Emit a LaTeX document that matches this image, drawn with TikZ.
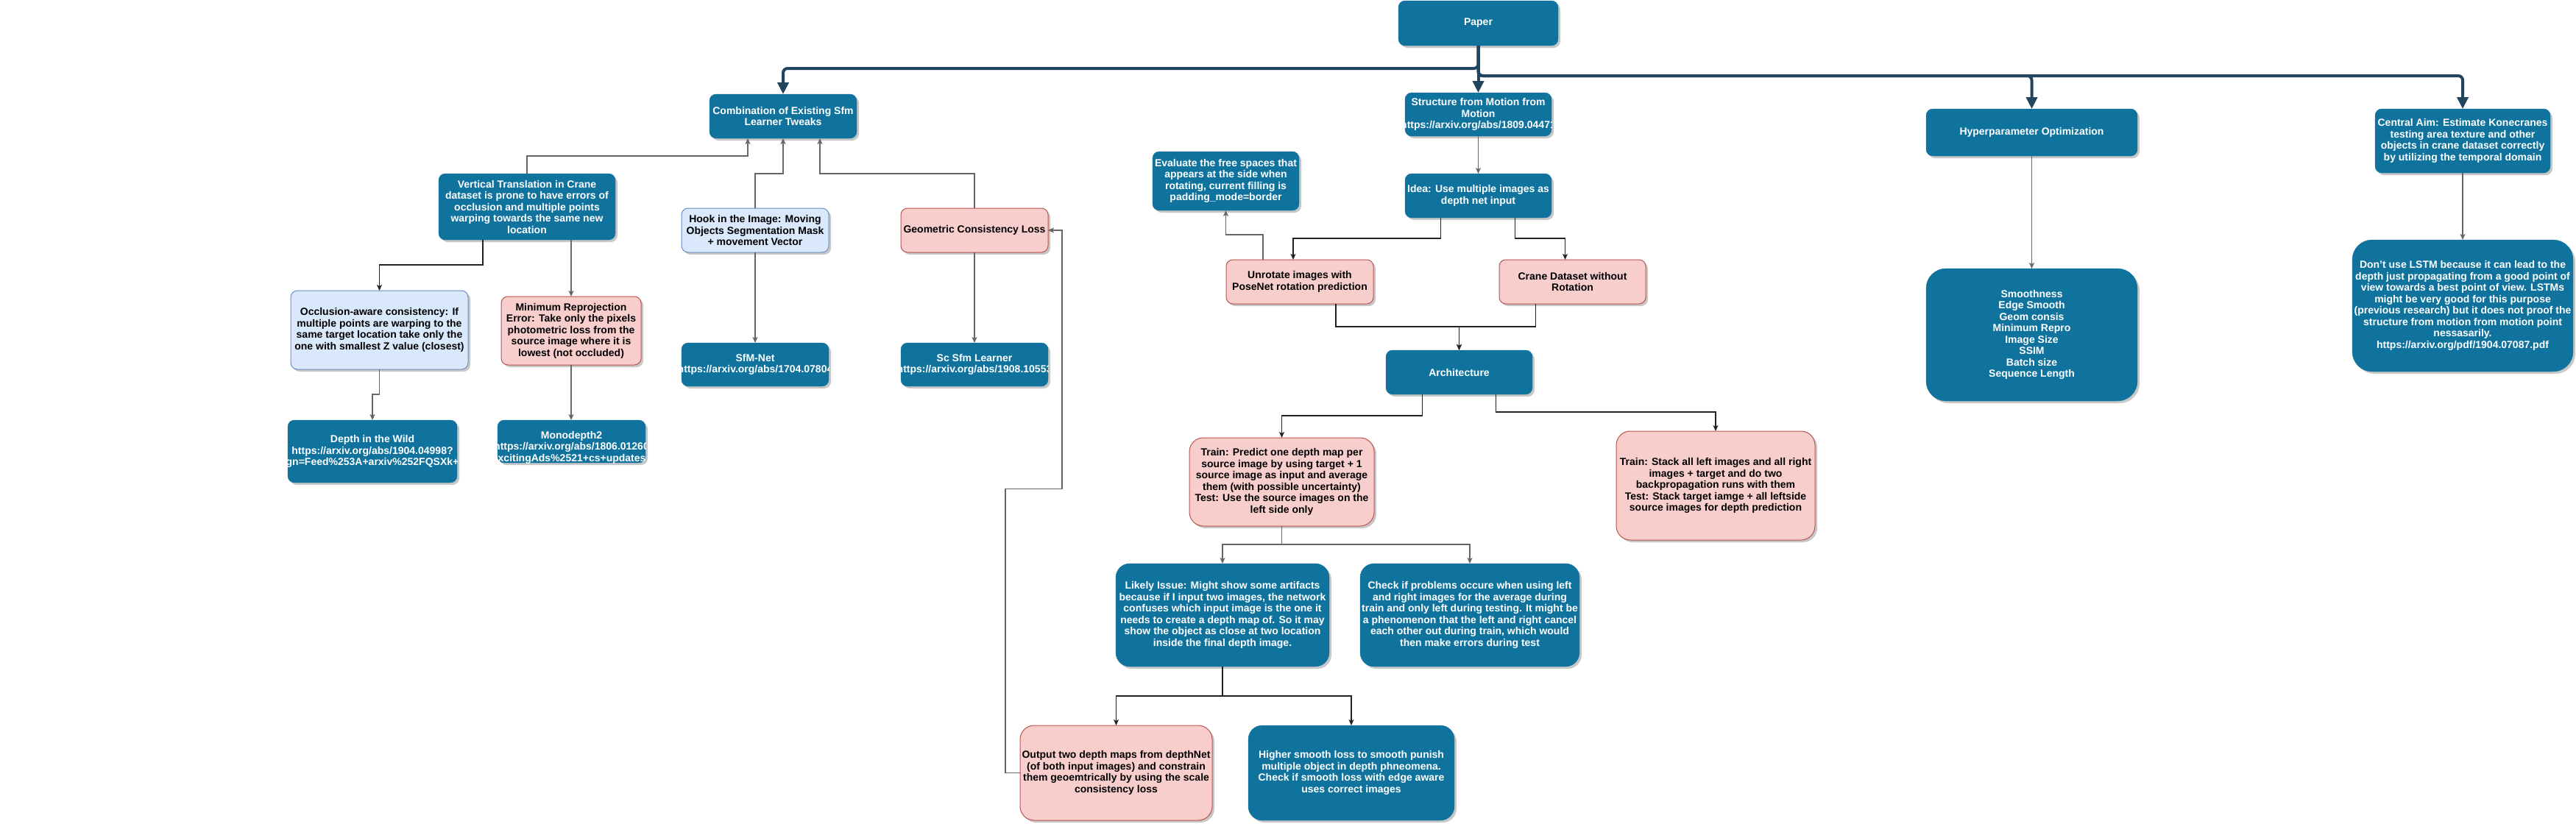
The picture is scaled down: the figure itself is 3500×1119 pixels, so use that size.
\documentclass[tikz,border=0pt]{standalone}
\usepackage{fontspec}
\setmainfont{Liberation Sans}
\usetikzlibrary{arrows.meta,shadows,calc}
\definecolor{nblue}{HTML}{10739E}
\definecolor{lbfill}{HTML}{DAE8FC}
\definecolor{lbdraw}{HTML}{6C8EBF}
\definecolor{pkfill}{HTML}{F8CECC}
\definecolor{pkdraw}{HTML}{B85450}
\definecolor{navy}{HTML}{23445D}
\definecolor{cgray}{HTML}{666666}
\definecolor{cdark}{HTML}{222222}
\newcommand\bx[7]{\node[#2, minimum width={(#5-#3)*1pt}, minimum height={(#6-#4)*1pt}] (#1) at ({(#3+#5)/2},{(#4+#6)/2}) {#7};}
\newcommand\cliptext[4]{\begin{scope}\clip[rounded corners=9pt] (#1.south west) rectangle (#1.north east);
\node[txt, text=#3] (#2) at (#1.center) {#4};\end{scope}}
\tikzset{
  base/.style={rectangle, inner sep=0pt, outer sep=0pt, align=center,
    font=\fontsize{14}{15.5}\selectfont\bfseries, rounded corners=9pt,
    drop shadow={shadow xshift=3pt, shadow yshift=-3pt, opacity=0.22, fill=black}},
  bluebox/.style={base, fill=nblue, draw=nblue, text=white},
  lblue/.style={base, fill=lbfill, draw=lbdraw, line width=1pt, text=black},
  pinkbox/.style={base, fill=pkfill, draw=pkdraw, line width=1pt, text=black},
  big/.style={rounded corners=19pt},
  bigger/.style={rounded corners=27pt},
  txt/.style={inner sep=0pt, align=center, font=\fontsize{14}{15.5}\selectfont\bfseries},
  conn/.style={draw=cgray, line width=1.2pt, -{Stealth[length=8pt,width=7pt,inset=2pt]}},
  connk/.style={conn, draw=cdark},
  trunk/.style={draw=navy, line width=4pt, rounded corners=6pt, -{Triangle[length=16pt,width=15pt]}},
}
\begin{document}
\begin{tikzpicture}[x=1pt,y=-1pt]
\fill[white] (0,0) rectangle (3500,1119);
\useasboundingbox (0,0) rectangle (3500,1119);

% nodes
\bx{paper}{bluebox}{1900}{1}{2117}{62}{Paper}
\bx{comb}{bluebox}{964}{128}{1164}{188}{Combination of Existing Sfm\\Learner Tweaks}
\bx{sfm}{bluebox}{1909}{126}{2108}{185}{}
\bx{hyper}{bluebox}{2617}{148}{2904}{212}{Hyperparameter Optimization}
\bx{central}{bluebox}{3227}{148}{3465}{235}{Central Aim: Estimate Konecranes\\testing area texture and other\\objects in crane dataset correctly\\by utilizing the temporal domain}
\bx{vt}{bluebox}{596}{236}{836}{326}{Vertical Translation in Crane\\dataset is prone to have errors of\\occlusion and multiple points\\warping towards the same new\\location}
\bx{hook}{lblue}{926}{283}{1126}{343}{Hook in the Image: Moving\\Objects Segmentation Mask\\+ movement Vector}
\bx{geo}{pinkbox}{1224}{283}{1424}{343}{Geometric Consistency Loss}
\bx{evaluate}{bluebox}{1566}{206}{1765}{286}{Evaluate the free spaces that\\appears at the side when\\rotating, current filling is\\padding\_mode=border}
\bx{idea}{bluebox}{1909}{236}{2108}{296}{Idea: Use multiple images as\\depth net input}
\bx{unrot}{pinkbox}{1666}{353}{1866}{413}{Unrotate images with\\PoseNet rotation prediction}
\bx{crane}{pinkbox}{2037}{353}{2236}{413}{Crane Dataset without\\Rotation}
\bx{occl}{lblue}{395}{395}{636}{502}{Occlusion-aware consistency: If\\multiple points are warping to the\\same target location take only the\\one with smallest Z value (closest)}
\bx{minrep}{pinkbox}{681}{403}{871}{496}{Minimum Reprojection\\Error: Take only the pixels\\photometric loss from the\\source image where it is\\lowest (not occluded)}
\bx{sfmnet}{bluebox}{926}{466}{1126}{525}{}
\bx{scsfm}{bluebox}{1224}{466}{1424}{525}{}
\bx{wild}{bluebox}{391}{571}{621}{656}{}
\bx{mono}{bluebox}{676}{571}{877}{629}{}
\bx{smooth}{bluebox,bigger}{2617}{365}{2904}{545}{Smoothness\\Edge Smooth\\Geom consis\\Minimum Repro\\Image Size\\SSIM\\Batch size\\Sequence Length}
\bx{lstm}{bluebox,bigger}{3196}{326}{3496}{505}{Don't use LSTM because it can lead to the\\depth just propagating from a good point of\\view towards a best point of view. LSTMs\\might be very good for this purpose\\(previous research) but it does not proof the\\structure from motion from motion point\\nessasarily.\\https://arxiv.org/pdf/1904.07087.pdf}
\bx{arch}{bluebox}{1883}{476}{2082}{536}{Architecture}
\bx{train1}{pinkbox,big}{1616}{595}{1867}{715}{Train: Predict one depth map per\\source image by using target + 1\\source image as input and average\\them (with possible uncertainty)\\Test: Use the source images on the\\left side only}
\bx{train2}{pinkbox,big}{2196}{586}{2466}{734}{Train: Stack all left images and all right\\images + target and do two\\backpropagation runs with them\\Test: Stack target iamge + all leftside\\source images for depth prediction}
\bx{likely}{bluebox,big}{1516}{766}{1806}{906}{Likely Issue: Might show some artifacts\\because if I input two images, the network\\confuses which input image is the one it\\needs to create a depth map of. So it may\\show the object as close at two location\\inside the final depth image.}
\bx{check}{bluebox,big}{1848}{766}{2146}{906}{Check if problems occure when using left\\and right images for the average during\\train and only left during testing. It might be\\a phenomenon that the left and right cancel\\each other out during train, which would\\then make errors during test}
\bx{output}{pinkbox,big}{1386}{986}{1647}{1115}{Output two depth maps from depthNet\\(of both input images) and constrain\\them geoemtrically by using the scale\\consistency loss}
\bx{higher}{bluebox,big}{1696}{986}{1976}{1115}{Higher smooth loss to smooth punish\\multiple object in depth phneomena.\\Check if smooth loss with edge aware\\uses correct images}

% clipped texts
\cliptext{sfm}{sfmt}{white}{Structure from Motion from\\Motion\\https://arxiv.org/abs/1809.04471}
\cliptext{sfmnet}{sfmnett}{white}{SfM-Net\\https://arxiv.org/abs/1704.07804}
\cliptext{scsfm}{scsfmt}{white}{Sc Sfm Learner\\https://arxiv.org/abs/1908.10553}
\cliptext{wild}{wildt}{white}{Depth in the Wild\\https://arxiv.org/abs/1904.04998?\\paign=Feed\%253A+arxiv\%252FQSXk+\%2}
\begin{scope}
\clip (mono.north west) rectangle ([yshift=-7pt]mono.south east);
\node[txt, text=white, anchor=north] (monot) at ([yshift=-15pt]mono.north) {Monodepth2\\https://arxiv.org/abs/1806.01260\\ExcitingAds\%2521+cs+updates+};
\end{scope}

% trunk connectors
\draw[trunk] (paper.south) -- ++(0,31) -| (comb.north);
\draw[trunk] (paper.south) -- (sfm.north);
\draw[trunk] (paper.south) -- ++(0,41) -| (hyper.north);
\draw[trunk] (paper.south) -- ++(0,41) -| (central.north);

% thin connectors
\draw[conn] (vt.north) -- ++(0,-24) -| ([xshift=-48pt]comb.south);
\draw[conn] (hook.north) -- ++(0,-47) -| (comb.south);
\draw[conn] (geo.north) -- ++(0,-47) -| ([xshift=50pt]comb.south);
\draw[connk] ([xshift=-60pt]vt.south) -- ++(0,34) -| (occl.north);
\draw[conn] (minrep.north |- vt.south) -- (minrep.north);
\draw[conn] (occl.south) -- ++(0,34) -| (wild.north);
\draw[conn] (minrep.south) -- (minrep.south |- mono.north);
\draw[conn] (hook.south) -- (sfmnet.north);
\draw[conn] (geo.south) -- (scsfm.north);
\draw[conn] (sfm.south) -- (idea.north);
\draw[connk] ([xshift=-51pt]idea.south) -- ++(0,28) -| ([xshift=-9pt]unrot.north);
\draw[connk] ([xshift=50pt]idea.south) -- ++(0,28) -| ([xshift=-10pt]crane.north);
\draw[conn] ([xshift=-50pt]unrot.north) -- ++(0,-34) -| (evaluate.south);
\draw[connk] ([xshift=49pt]unrot.south) -- ++(0,31) -| (arch.north);
\draw[connk] ([xshift=-50pt]crane.south) -- ++(0,31) -| (arch.north);
\draw[connk] ([xshift=-50pt]arch.south) -- ++(0,29) -| (train1.north);
\draw[connk] ([xshift=50pt]arch.south) -- ++(0,24) -| (train2.north);
\draw[conn] (train1.south) -- ++(0,25) -| (likely.north);
\draw[conn] (train1.south) -- ++(0,25) -| (check.north);
\draw[connk] (likely.south) -- ++(0,40) -| (output.north);
\draw[connk] (likely.south) -- ++(0,40) -| (higher.north);
\draw[conn] (output.west) -- ++(-20,0) -- ++(0,-386) -- ++(77,0) |- (geo.east);
\draw[conn] (hyper.south) -- (smooth.north);
\draw[conn] (central.south) -- (lstm.north);
\end{tikzpicture}
\end{document}
